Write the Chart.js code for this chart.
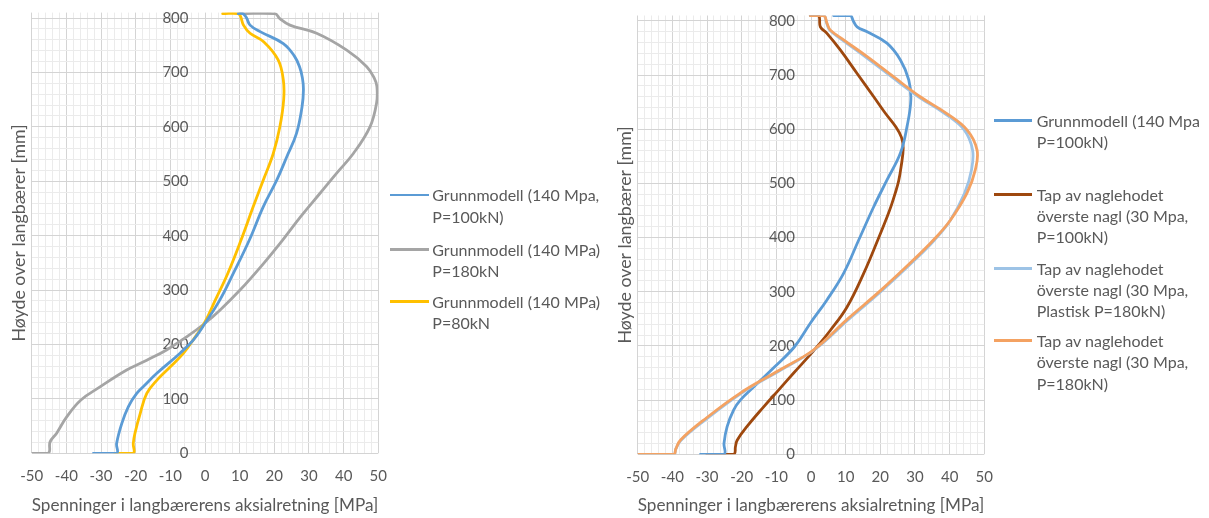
<!DOCTYPE html>
<html><head><meta charset="utf-8">
<script src="https://cdn.jsdelivr.net/npm/chart.js@4.4.1/dist/chart.umd.min.js"></script>
<style>
html,body{margin:0;padding:0;background:#fff;width:1209px;height:518px;overflow:hidden;font-family:Lato,sans-serif;}
canvas{position:absolute;top:0;}
.item{position:absolute;color:#595959;font-size:16px;line-height:21.3px;white-space:pre;font-family:Lato,sans-serif;}
.sw{position:absolute;height:2.6px;}
</style>
</head><body>
<canvas id="c1" width="390" height="518" style="left:0px"></canvas>
<canvas id="c2" width="395" height="518" style="left:600px"></canvas>
<div id="legends"></div>
<script>
// ---------- data ----------
const X_TITLE = "Spenninger i langbærerens aksialretning [MPa]";
const Y_TITLE = "Høyde over langbærer [mm]";
const X_TICKS = [-50,-40,-30,-20,-10,0,10,20,30,40,50];
const Y_TICKS = [0,100,200,300,400,500,600,700,800];

// Left chart
const L_NAMES = ["Grunnmodell (140 Mpa,\nP=100kN)", "Grunnmodell (140 MPa)\nP=180kN", "Grunnmodell (140 MPa)\nP=80kN"];
const L_COLORS = ["#5B9BD5", "#A5A5A5", "#FFC000"];
const L_BLUE_Y = [808, 808, 800, 787, 775, 753, 730, 710, 690, 668, 637, 588, 545, 502, 453, 392, 331, 282, 239, 208, 184, 147, 125, 110, 86, 55, 18, 0, 0];
const L_BLUE_X = [9.6, 11.0, 12.0, 13.0, 15.9, 22.6, 25.8, 27.3, 28.1, 28.4, 28.0, 26.4, 23.6, 20.7, 16.8, 12.8, 8.2, 4.3, 0, -3.4, -7.2, -13.9, -17.4, -19.7, -22.1, -24.0, -25.5, -25.5, -32.2];
const L_GRAY_Y = [808, 808, 799, 787, 772, 741, 711, 690, 674, 644, 600, 551, 515, 478, 435, 392, 346, 300, 263, 239, 214, 190, 171, 153, 122, 98, 67, 37, 21, 0, 0];
const L_GRAY_X = [10.1, 20.2, 21.6, 24.5, 32.2, 40.9, 46.6, 48.8, 49.6, 49.5, 47.6, 42.8, 38.0, 33.2, 27.6, 22.4, 16.5, 10.1, 4.3, 0, -5.3, -11.1, -16.8, -22.6, -30.3, -35.8, -39.9, -42.8, -44.7, -45.2, -50];
const L_YEL_Y = [808, 808, 802, 787, 772, 756, 723, 686, 650, 600, 551, 502, 453, 392, 331, 282, 239, 214, 184, 159, 135, 110, 73, 37, 18, 0, 0];
const L_YEL_X = [5.1, 9.6, 10.3, 11.1, 13.0, 17.0, 21.1, 22.6, 22.7, 21.6, 19.7, 16.8, 13.9, 10.4, 6.6, 3.0, -0.2, -2.8, -6.2, -10.0, -13.8, -16.8, -18.7, -20.2, -20.7, -20.7, -26.0];

// Right chart
const R_NAMES = ["Grunnmodell (140 Mpa\nP=100kN)", "Tap av naglehodet\növerste nagl (30 Mpa,\nP=100kN)", "Tap av naglehodet\növerste nagl (30 Mpa,\nPlastisk P=180kN)", "Tap av naglehodet\növerste nagl (30 Mpa,\nP=180kN)"];
const R_COLORS = ["#5B9BD5", "#9E480E", "#9DC3E6", "#F4A262"];
const R_BLUE_Y = [810, 810, 800, 789, 780, 759, 728, 691, 654, 605, 556, 506, 457, 396, 334, 285, 242, 199, 162, 125, 100, 82, 51, 20, 0, 0];
const R_BLUE_X = [6.5, 11.3, 12.2, 13.3, 16.2, 21.9, 25.8, 28.2, 28.8, 27.7, 25.8, 21.9, 18.1, 13.8, 9.4, 4.6, -0.2, -4.7, -10.4, -16.4, -20.4, -22.3, -24.2, -25.1, -25.1, -31.9];
const R_BROWN_Y = [810, 810, 789, 777, 746, 703, 660, 630, 605, 585, 565, 531, 505, 482, 460, 439, 396, 334, 272, 229, 190, 150, 119, 88, 51, 26, 14, 0, 0];
const R_BROWN_X = [-0.2, 2.2, 2.7, 4.6, 8.5, 13.3, 18.1, 21.4, 24.4, 26.1, 26.6, 26.0, 25.3, 24.3, 23.2, 22.0, 19.3, 15.2, 10.4, 5.6, 0.6, -5.0, -9.3, -13.6, -18.5, -21.3, -21.8, -22.3, -30.0];
const R_ORANGE_Y = [810, 810, 796, 783, 765, 734, 697, 660, 629, 599, 562, 525, 482, 432, 396, 359, 303, 250, 193, 156, 113, 63, 26, 10, 0, 0];
const R_ORANGE_X = [-0.2, 3.7, 4.6, 5.6, 9.4, 16.2, 23.8, 31.5, 39.2, 45.0, 47.9, 47.4, 45.0, 40.2, 35.4, 29.6, 20.2, 10.6, 0.8, -8.9, -20.4, -31.0, -37.7, -39.0, -39.6, -50];
const R_LBLUE_Y = [810, 810, 796, 783, 765, 734, 697, 660, 629, 599, 562, 525, 482, 432, 396, 359, 303, 250, 193, 156, 113, 63, 26, 10, 0, 0];
const R_LBLUE_X = [-0.2, 3.7, 4.5, 5.4, 9.0, 15.6, 23.2, 31.0, 38.6, 44.2, 46.6, 46.3, 44.3, 40.2, 35.7, 30.0, 20.6, 11.0, 1.0, -8.6, -20.0, -30.6, -37.5, -39.0, -39.6, -50];

// ---------- helpers ----------
const TXT = "#595959", MAJOR = "#d4d4d4", MINOR = "#ebebeb";
const FONT = "Lato", TICK_SIZE = 15, TITLE_SIZE = 17.8;
function pts(xs, ys){ return xs.map((x,i)=>({x:x, y:ys[i]})); }
function ds(label, xs, ys, color, order){
  return {label:label.replace("\n"," "), data:pts(xs,ys), borderColor:color, backgroundColor:color,
    borderWidth:2.8, pointRadius:0, pointHoverRadius:0, showLine:true, tension:0.4, fill:false, order:order,
    borderJoinStyle:'round', borderCapStyle:'round'};
}
const mctx = document.createElement('canvas').getContext('2d');
mctx.font = TICK_SIZE + 'px ' + FONT;
const WIDEST = Math.max(...Y_TICKS.map(v=>mctx.measureText(String(v)).width));

function makeChart(id, datasets, g){
  return new Chart(document.getElementById(id), {
    type:'scatter',
    data:{datasets:datasets},
    options:{
      responsive:false, animation:false, events:[],
      layout:{padding:{top:g.top, right:g.right, left:0, bottom:0}},
      plugins:{legend:{display:false}, tooltip:{enabled:false}},
      scales:{
        x:{type:'linear', position:'bottom', min:X_TICKS[0], max:X_TICKS[X_TICKS.length-1],
          ticks:{stepSize:2, autoSkip:false, maxRotation:0, includeBounds:false, padding:14, color:TXT,
            font:{family:FONT, size:TICK_SIZE}, callback:(v)=> X_TICKS.includes(v) ? String(v) : ''},
          grid:{color:(c)=> (c.tick && X_TICKS.includes(c.tick.value)) ? MAJOR : MINOR, drawTicks:false, lineWidth:1},
          border:{display:false},
          title:{display:true, align:'start', text:X_TITLE, color:TXT, font:{family:FONT, size:TITLE_SIZE}, padding:{top:0, bottom:2.3}},
          afterFit:(s)=>{ s.height = g.xh; s.paddingLeft = 0; s.paddingRight = 0; }
        },
        y:{type:'linear', position:'left', min:0, max:810,
          ticks:{stepSize:20, autoSkip:false, includeBounds:false, mirror:true, crossAlign:'far',
            padding:g.labelRight - g.yw - WIDEST, color:TXT,
            font:{family:FONT, size:TICK_SIZE}, callback:(v)=> Y_TICKS.includes(v) ? String(v) : ''},
          grid:{color:(c)=> (c.tick && Y_TICKS.includes(c.tick.value)) ? MAJOR : MINOR, drawTicks:false, lineWidth:1},
          border:{display:false},
          title:{display:true, text:Y_TITLE, color:TXT, font:{family:FONT, size:TITLE_SIZE}, padding:{top:g.ytp, bottom:0}},
          afterFit:(s)=>{ s.width = g.yw; s.paddingTop = 0; s.paddingBottom = 0; }
        }
      }
    }
  });
}

makeChart('c1', [
  ds(L_NAMES[0], L_BLUE_X, L_BLUE_Y, L_COLORS[0], 0),
  ds(L_NAMES[1], L_GRAY_X, L_GRAY_Y, L_COLORS[1], 2),
  ds(L_NAMES[2], L_YEL_X, L_YEL_Y, L_COLORS[2], 1)
], {top:12.6, right:11.7, xh:64.7, yw:31.7, labelRight:188.5, ytp:8.3});

makeChart('c2', [
  ds(R_NAMES[0], R_BLUE_X, R_BLUE_Y, R_COLORS[0], 2),
  ds(R_NAMES[1], R_BROWN_X, R_BROWN_Y, R_COLORS[1], 3),
  ds(R_NAMES[2], R_LBLUE_X, R_LBLUE_Y, R_COLORS[2], 1),
  ds(R_NAMES[3], R_ORANGE_X, R_ORANGE_Y, R_COLORS[3], 0)
], {top:15.5, right:10.7, xh:63.7, yw:37.7, labelRight:195, ytp:14.3});

// ---------- HTML legends ----------
function legend(names, colors, lineL, lineR, textL, centers){
  const host = document.getElementById('legends');
  names.forEach((n,i)=>{
    const sw = document.createElement('div');
    sw.className='sw';
    sw.style.left=lineL+'px'; sw.style.width=(lineR-lineL)+'px';
    sw.style.top=(centers[i]-1.3)+'px'; sw.style.background=colors[i];
    host.appendChild(sw);
    const t = document.createElement('div');
    t.className='item'; t.textContent=n;
    t.style.left=textL+'px'; t.style.top=(centers[i]-10.65)+'px';
    host.appendChild(t);
  });
}
legend(L_NAMES, L_COLORS, 390, 429, 432.3, [195, 249.5, 301.7]);
legend(R_NAMES, R_COLORS, 994.3, 1031.7, 1036.7, [120.7, 194.3, 268.3, 340.7]);
</script>
</body></html>
